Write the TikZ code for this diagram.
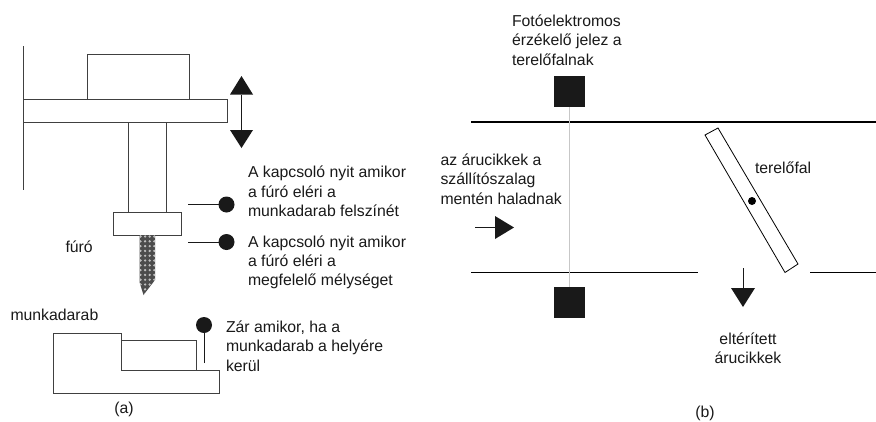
\documentclass[tikz,border=0pt]{standalone}
\usepackage{fontspec}
\setmainfont{Liberation Sans}
\definecolor{ink}{gray}{0.1}
\tikzset{
  lbl/.style={inner sep=0pt,outer sep=0pt,anchor=west,align=left,text=ink,font=\fontsize{15.8}{19.3}\selectfont},
  capt/.style={inner sep=0pt,outer sep=0pt,text=ink,font=\fontsize{15.8}{19.3}\selectfont},
  part/.style={draw=black!75,line width=1pt,fill=white,line join=miter},
  dotnode/.style={circle,fill=ink,draw=none,minimum size=16pt,inner sep=0pt,outer sep=0pt},
  sqnode/.style={rectangle,fill=ink,draw=none,minimum size=31pt,inner sep=0pt,outer sep=0pt},
  wire/.style={draw=ink,line width=1pt},
  belt/.style={draw=black,line width=1.5pt},
  head/.style={fill=ink,draw=none}
}
\begin{document}
\begin{tikzpicture}[x=1pt,y=-1pt]
\useasboundingbox (0,0) rectangle (876,421);
% (a) drill
\draw[part] (23,46) -- (23,190);
\draw[part] (87,99) -- (87,54) -- (189,54) -- (189,99);
\draw[part] (23,99) rectangle (227,122);
\draw[part] (128,122) -- (128,212) (166,122) -- (166,212);
\draw[part] (113,212) rectangle (181,235);
\begin{scope}
\clip (139.5,235) -- (155,235) -- (155,280) -- (143.5,295) -- (139.5,282) -- cycle;
\fill[black!70] (138,234) rectangle (156,296);
\foreach \r in {0,...,12}{
  \foreach \c in {0,...,3}{
    \fill[black!25] ({140.5+\c*4.6},{236.5+\r*4.8}) circle (1.3);
  }
}
\end{scope}
% double arrow
\coordinate (dtop) at (241.5,94.5);
\coordinate (dbot) at (241.5,130);
\draw[wire] (dtop) -- (dbot);
\fill[head] (241.5,76) -- (253,94.5) -- (230,94.5) -- cycle;
\fill[head] (241.5,148) -- (253,130) -- (230,130) -- cycle;
% switches
\node[dotnode] (s1) at (226.5,204.5) {};
\node[dotnode] (s2) at (226.5,242) {};
\node[dotnode] (s3) at (204,325) {};
\coordinate (s1a) at (188,204.5);
\coordinate (s2a) at (188,242);
\coordinate (s3a) at (204,363);
\draw[wire] (s1a) -- (s1);
\draw[wire] (s2a) -- (s2);
\draw[wire] (s3a) -- (s3);
\node[lbl] (t1) at (248,191.5) {A kapcsoló nyit amikor\\a fúró eléri a\\munkadarab felszínét};
\node[lbl] (t2) at (248,262.5) {A kapcsoló nyit amikor\\a fúró eléri a\\megfelelő mélységet};
\node[lbl] (t3) at (226,346) {Zár amikor, ha a\\munkadarab a helyére\\kerül};
\node[lbl] (fu) at (65.5,247) {fúró};
\node[lbl] (mu) at (10.5,315) {munkadarab};
% workpiece
\draw[part] (53,333) -- (121,333) -- (121,370) -- (219,370) -- (219,393) -- (53,393) -- cycle;
\draw[part] (121,340) -- (196,340) -- (196,370);
\node[capt] (capa) at (124,409) {(a)};
% (b)
\node[lbl] (t4) at (512,40) {Fotóelektromos\\érzékelő jelez a\\terelőfalnak};
\node[lbl] (t5) at (440.5,179) {az árucikkek a\\szállítószalag\\mentén haladnak};
\node[lbl] (t6) at (755,168) {terelőfal};
\node[capt] (t7a) at (748,339) {eltérített};
\node[capt] (t7b) at (748,358) {árucikkek};
\node[capt] (capb) at (705,413) {(b)};
\coordinate (bl1) at (471,122); \coordinate (br1) at (876,122);
\coordinate (bl2) at (471,272.5); \coordinate (bm2) at (698,272.5);
\coordinate (bm3) at (810,272.5); \coordinate (br3) at (876,272.5);
\draw[belt,line width=2pt] (bl1) -- (br1);
\draw[belt] (bl2) -- (bm2);
\draw[belt] (bm3) -- (br3);
\node[sqnode] (sqt) at (569.5,91.5) {};
\node[sqnode] (sqb) at (569.5,302.5) {};
\draw[draw=black!22,line width=1.5pt] (sqt.south) -- (sqb.north);
% deflector
\draw[draw=black,line width=.8pt,fill=white] (705,135) -- (718,128) -- (798,264) -- (785,272.5) -- cycle;
\fill[black] (752,201) circle (4);
% arrows
\coordinate (ra) at (475,227.5); \coordinate (rb) at (495,227.5);
\draw[wire] (ra) -- (rb);
\fill[head] (514,227.5) -- (495,216) -- (495,239) -- cycle;
\coordinate (da) at (743,268); \coordinate (db) at (743,288);
\draw[wire] (da) -- (db);
\fill[head] (743,307) -- (731,288) -- (755,288) -- cycle;
\end{tikzpicture}
\end{document}
